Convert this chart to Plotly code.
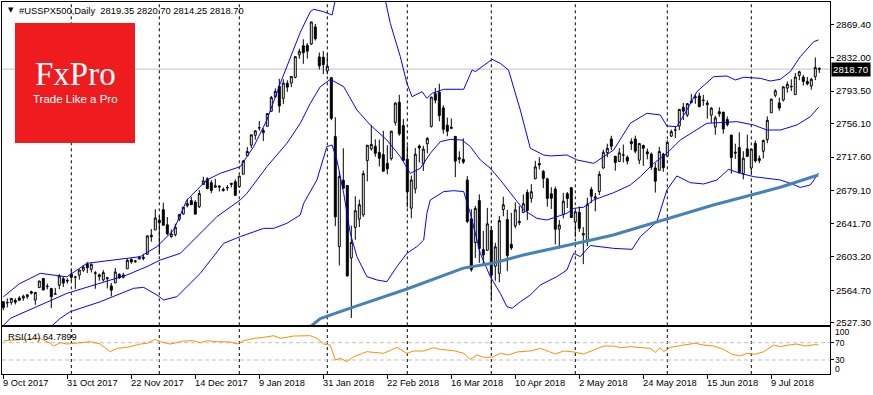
import plotly.graph_objects as go
from plotly.subplots import make_subplots

# ---------------- data ----------------
opens = [2551.4, 2550.0, 2550.6, 2552.9, 2555.7, 2555.6, 2557.2, 2562.9, 2553.4, 2567.6,
         2578.1, 2568.7, 2566.5, 2560.1, 2570.3, 2577.8, 2576.0,
         2583.2, 2579.5, 2581.9, 2587.5, 2594.4, 2588.7, 2584.0, 2580.2, 2576.5, 2577.8,
         2569.5, 2573.0, 2582.9, 2579.5, 2589.2, 2600.3, 2597.5, 2600.4, 2602.7, 2605.9,
         2627.8, 2633.9,
         2645.1, 2657.2, 2639.8, 2626.2, 2628.4, 2646.2, 2652.2, 2661.7, 2667.6, 2665.9,
         2660.6, 2685.9, 2692.7, 2688.2, 2683.0, 2684.2, 2679.1, 2682.1, 2686.1, 2689.2,
         2683.7, 2697.9, 2719.3, 2731.3, 2742.7, 2751.2, 2745.6, 2753.0, 2770.2, 2787.0,
         2799.0, 2785.0, 2802.4, 2802.6, 2809.2, 2835.1, 2845.4, 2846.2, 2847.5, 2867.2,
         2832.7, 2832.4,
         2816.5, 2808.9, 2741.1, 2614.8, 2691.0, 2685.0, 2601.8, 2636.8, 2646.3, 2651.2,
         2713.5, 2727.1, 2730.0, 2723.0, 2720.5, 2710.4, 2715.8, 2757.4, 2780.5, 2753.8,
         2715.2, 2658.9, 2681.1, 2730.2, 2710.2, 2732.8, 2752.9, 2790.5, 2792.3, 2774.1,
         2754.3, 2750.6, 2741.4, 2715.1, 2715.0, 2691.4, 2646.7, 2619.4, 2667.6, 2611.3,
         2610.6,
         2633.5, 2592.2, 2584.0, 2657.4, 2645.8, 2617.2, 2638.4, 2643.7, 2653.8, 2676.9,
         2670.1, 2692.7, 2710.1, 2701.2, 2692.6, 2675.4, 2680.8, 2634.9, 2651.7, 2675.5,
         2682.5,
         2643.0, 2654.2, 2628.1, 2621.5, 2680.3, 2670.3, 2678.1, 2705.0, 2722.7, 2738.5,
         2718.6, 2712.6, 2719.7, 2717.4, 2735.4, 2738.3, 2714.0, 2730.9, 2723.6, 2721.0,
         2705.1, 2702.4, 2721.0,
         2718.7, 2741.7, 2748.5, 2753.3, 2774.8, 2765.8, 2780.2, 2785.6, 2787.9, 2783.2,
         2777.8, 2765.8, 2752.0, 2769.7, 2769.3, 2760.8, 2742.9, 2722.1, 2728.5, 2698.7,
         2727.1,
         2705.0, 2733.3, 2713.5, 2724.2, 2737.7, 2768.5, 2788.6, 2779.8, 2783.1, 2796.9,
         2799.0, 2789.3, 2811.4, 2809.4, 2804.6, 2799.2, 2810.0, 2819.35]
highs = [2551.8, 2555.2, 2555.2, 2555.3, 2557.7, 2559.5, 2559.7, 2564.1, 2562.4, 2575.4,
         2578.3, 2572.2, 2567.4, 2567.1, 2583.0, 2580.0, 2578.3,
         2588.4, 2581.1, 2588.4, 2593.4, 2597.0, 2595.5, 2586.5, 2583.8, 2587.7, 2579.7,
         2572.8, 2590.1, 2584.0, 2584.6, 2601.2, 2600.9, 2599.5, 2604.2, 2606.4, 2627.7,
         2634.9, 2657.7,
         2650.6, 2665.2, 2648.7, 2634.4, 2641.0, 2651.7, 2660.3, 2669.7, 2671.9, 2668.1,
         2679.6, 2695.0, 2694.4, 2691.0, 2692.6, 2685.4, 2682.7, 2685.6, 2687.7, 2692.1,
         2695.9, 2714.4, 2729.3, 2743.5, 2748.5, 2759.1, 2750.8, 2767.6, 2787.9, 2796.5,
         2807.5, 2807.0, 2805.8, 2810.3, 2833.0, 2842.2, 2853.0, 2848.6, 2872.9, 2870.6,
         2837.8, 2839.3,
         2836.0, 2808.9, 2763.4, 2701.0, 2727.7, 2685.3, 2638.7, 2672.6, 2668.8, 2702.1,
         2731.5, 2754.4, 2738.0, 2737.6, 2747.8, 2731.3, 2747.8, 2780.6, 2789.2, 2761.5,
         2730.9, 2696.3, 2728.1, 2732.1, 2730.6, 2740.5, 2786.6, 2797.0, 2801.9, 2777.1,
         2763.0, 2761.9, 2741.4, 2724.2, 2739.1, 2695.7, 2657.7, 2661.4, 2674.8, 2632.7,
         2659.1,
         2638.3, 2619.1, 2649.9, 2672.1, 2656.9, 2653.6, 2665.5, 2661.4, 2674.7, 2680.3,
         2686.5, 2713.3, 2717.5, 2702.8, 2693.9, 2682.9, 2683.6, 2645.3, 2676.5, 2677.4,
         2682.9,
         2655.3, 2660.9, 2637.1, 2670.9, 2683.4, 2676.3, 2701.3, 2726.1, 2732.9, 2742.1,
         2718.6, 2727.8, 2732.0, 2719.5, 2739.2, 2742.2, 2733.3, 2732.0, 2727.4, 2723.0,
         2710.7, 2729.3, 2722.5,
         2736.9, 2749.2, 2752.6, 2772.4, 2779.9, 2779.4, 2790.2, 2789.8, 2791.5, 2789.1,
         2782.8, 2775.0, 2765.1, 2774.9, 2769.3, 2764.2, 2742.9, 2732.9, 2746.1, 2724.3,
         2743.3,
         2727.3, 2736.6, 2719.5, 2737.8, 2764.4, 2784.7, 2795.6, 2785.9, 2799.2, 2804.5,
         2807.0, 2814.2, 2816.8, 2812.1, 2809.7, 2808.6, 2832.0, 2820.70]
lows = [2541.6, 2544.9, 2547.9, 2548.3, 2552.1, 2552.6, 2554.7, 2559.7, 2547.9, 2567.6,
        2564.3, 2565.6, 2544.0, 2559.8, 2565.9, 2568.3, 2572.2,
        2574.9, 2566.2, 2576.8, 2585.7, 2584.4, 2585.0, 2566.3, 2575.6, 2574.5, 2566.6,
        2557.5, 2573.0, 2577.6, 2578.2, 2589.2, 2595.2, 2596.0, 2600.4, 2598.9, 2605.4,
        2620.3, 2633.9,
        2605.5, 2639.0, 2627.7, 2624.8, 2626.5, 2644.1, 2651.5, 2659.8, 2662.9, 2652.0,
        2659.1, 2685.9, 2680.7, 2676.1, 2682.4, 2678.1, 2678.0, 2678.9, 2682.7, 2673.6,
        2682.4, 2697.8, 2719.1, 2727.9, 2737.6, 2747.9, 2736.1, 2752.8, 2769.6, 2785.5,
        2768.6, 2778.4, 2792.6, 2798.1, 2808.1, 2830.6, 2824.8, 2830.9, 2846.2, 2851.5,
        2818.3, 2813.0,
        2812.7, 2760.0, 2638.2, 2593.1, 2681.3, 2580.6, 2532.7, 2622.5, 2637.1, 2648.9,
        2689.8, 2725.1, 2718.0, 2706.8, 2701.3, 2697.8, 2713.7, 2753.8, 2742.1, 2713.5,
        2659.7, 2647.3, 2675.8, 2711.3, 2701.7, 2721.9, 2751.5, 2779.3, 2758.7, 2744.4,
        2741.5, 2750.0, 2694.6, 2710.1, 2709.8, 2641.6, 2585.9, 2601.8, 2596.1, 2593.1,
        2609.7,
        2553.8, 2575.5, 2573.6, 2649.6, 2586.3, 2610.8, 2635.8, 2639.3, 2653.8, 2645.1,
        2665.2, 2692.1, 2703.6, 2681.9, 2660.6, 2658.0, 2617.3, 2612.7, 2647.2, 2659.0,
        2648.0,
        2625.4, 2631.7, 2594.6, 2615.3, 2664.7, 2655.2, 2674.1, 2704.5, 2717.5, 2725.5,
        2701.9, 2712.2, 2711.4, 2709.2, 2725.7, 2721.9, 2709.5, 2707.4, 2715.0, 2703.0,
        2676.8, 2702.4, 2700.7,
        2718.7, 2740.5, 2739.5, 2748.5, 2760.2, 2763.6, 2779.4, 2778.8, 2774.7, 2776.5,
        2761.7, 2757.1, 2743.2, 2763.9, 2744.4, 2752.7, 2698.7, 2715.6, 2699.4, 2692.0,
        2718.0,
        2699.0, 2711.2, 2710.5, 2716.0, 2733.5, 2768.5, 2786.2, 2770.8, 2781.5, 2791.7,
        2793.6, 2789.2, 2805.9, 2799.8, 2800.0, 2795.1, 2806.0, 2814.25]
closes = [2544.7, 2550.6, 2555.2, 2550.9, 2553.2, 2557.6, 2559.4, 2561.3, 2562.1, 2575.2,
          2565.0, 2569.1, 2557.2, 2560.4, 2581.1, 2572.8, 2575.3,
          2579.4, 2579.9, 2587.8, 2591.1, 2590.6, 2594.4, 2584.6, 2582.3, 2584.8, 2578.9,
          2564.6, 2585.6, 2578.9, 2582.1, 2599.0, 2597.1, 2598.2, 2602.4, 2601.4, 2627.0,
          2626.1, 2647.6,
          2642.2, 2639.4, 2629.6, 2629.3, 2637.0, 2651.5, 2660.0, 2664.1, 2662.9, 2652.0,
          2675.8, 2690.2, 2681.5, 2679.3, 2684.6, 2683.3, 2680.5, 2682.6, 2687.5, 2673.6,
          2695.8, 2713.1, 2724.0, 2743.2, 2747.7, 2751.3, 2748.2, 2767.6, 2786.2, 2793.0,
          2776.4, 2802.6, 2798.0, 2810.3, 2833.0, 2839.1, 2837.5, 2839.3, 2872.9, 2853.5,
          2822.4, 2823.8,
          2822.0, 2762.1, 2648.9, 2695.1, 2681.7, 2581.0, 2619.6, 2656.0, 2662.9, 2698.6,
          2731.2, 2732.2, 2722.0, 2716.3, 2701.3, 2704.0, 2747.3, 2779.6, 2744.3, 2713.8,
          2677.7, 2691.3, 2720.9, 2728.1, 2726.8, 2739.0, 2786.6, 2783.0, 2765.3, 2749.5,
          2747.3, 2752.0, 2712.9, 2716.9, 2711.9, 2643.7, 2588.3, 2658.6, 2612.6, 2605.0,
          2640.9,
          2581.9, 2614.5, 2644.7, 2662.8, 2604.5, 2613.2, 2656.9, 2642.2, 2664.0, 2656.3,
          2677.8, 2706.4, 2708.6, 2693.1, 2670.1, 2670.3, 2634.6, 2639.4, 2666.9, 2669.9,
          2648.1,
          2654.8, 2635.7, 2629.7, 2663.4, 2672.6, 2671.9, 2697.8, 2723.1, 2727.7, 2730.1,
          2711.5, 2722.5, 2720.1, 2713.0, 2733.0, 2724.4, 2733.3, 2727.8, 2721.3, 2706.0,
          2689.9, 2724.0, 2705.3,
          2734.6, 2746.9, 2748.8, 2772.4, 2770.4, 2779.0, 2782.0, 2786.9, 2775.6, 2782.5,
          2779.7, 2773.9, 2762.6, 2767.3, 2749.8, 2754.9, 2717.1, 2723.1, 2699.6, 2716.3,
          2718.4,
          2726.7, 2713.2, 2716.0, 2736.6, 2759.8, 2784.2, 2793.8, 2774.0, 2798.3, 2801.3,
          2798.4, 2809.6, 2815.6, 2804.5, 2801.8, 2807.0, 2820.4, 2818.70]
bars = list(range(len(closes)))

# Bollinger bands (20,2) read at points along each line: (bar position, value)
bb_upper_x = [0, 4, 9.25, 15.9, 20.9, 24.25, 30.9, 34.25, 38.4, 42.6, 45.9, 50.9, 54.25,
              59.25, 62.6, 65.9, 69.25, 72.6, 74.25, 76.75, 77.6, 80.1, 82.2, 83, 86, 89,
              92, 95.5, 96.75, 99.25, 100.9, 102.2, 104.7, 105.9, 107.2, 110.1, 115.1,
              117.2, 118, 119.7, 122.2, 124.25, 126.3, 129.25, 131.75, 135.1, 136.75,
              140.9, 143.4, 147.6, 152.6, 156.75, 160.9, 164.25, 165.9, 168.4, 170.9,
              173.4, 177.6, 180.9, 183, 185.1, 189.25, 191.75, 194.25, 196.75, 199.25,
              202.6, 203.8]
bb_upper = [2557, 2572, 2584, 2580, 2595.5, 2597.4, 2601.3, 2603.2, 2614.7, 2633.8, 2668.3,
            2691.3, 2698.9, 2706.6, 2729.6, 2760.2, 2802.4, 2840.7, 2861, 2884.7, 2887.4,
            2884.7, 2880.9, 2898, 2925, 2940, 2930, 2898, 2871.3, 2833, 2802.4, 2787,
            2792.8, 2785.1, 2790.9, 2795.5, 2795.5, 2817.7, 2815.8, 2821.5, 2829.9, 2825.3,
            2817.7, 2771.7, 2727.7, 2720, 2718.9, 2720, 2714.3, 2710.4, 2725.8, 2756.4,
            2767.9, 2766, 2753.3, 2752.6, 2771.7, 2792.8, 2810, 2810.8, 2806.2, 2809.3,
            2808.1, 2805, 2807, 2815.8, 2833, 2850.2, 2852.2]
bb_mid_x = [0, 1.75, 15.9, 26.75, 30.9, 35.9, 39.25, 44.25, 47.6, 53.4, 59.25, 60.9, 65.9,
            70.9, 74.25, 76.75, 79.25, 81.75, 85.1, 88.4, 91.75, 95.9, 99.25, 101.75,
            104.25, 106.75, 109.25, 111.75, 114.7, 116.75, 119.25, 121.75, 124.25, 126.75,
            130.1, 133.4, 135.9, 138.4, 140.9, 142.6, 145.1, 147.6, 152.6, 156.75, 159.25,
            162.6, 165.9, 169.25, 172.6, 175.9, 179.25, 183.4, 187.6, 190.9, 194.25, 198.4,
            201.75, 203.8]
bb_mid = [2524, 2532.3, 2561, 2576.4, 2582.1, 2591.7, 2599.3, 2607, 2622.3, 2649.1, 2668.3,
          2675.9, 2706.6, 2733.4, 2756.4, 2779.4, 2798.5, 2806.9, 2798.5, 2771.7, 2754.5,
          2737.2, 2718.1, 2698.9, 2704.7, 2721.9, 2735.3, 2738, 2737.2, 2729.6, 2714.3,
          2704.7, 2691.3, 2676, 2656.8, 2647.2, 2645.3, 2649.1, 2653, 2658.7, 2660,
          2668.3, 2676.7, 2685.5, 2695.1, 2710.4, 2721.9, 2737.2, 2746.8, 2756.4, 2757.2,
          2758.3, 2754.5, 2748.7, 2748.7, 2754.5, 2764, 2774.8]
bb_lower_x = [10, 14.25, 16.75, 24.25, 32.6, 35.1, 38.4, 40.1, 43.4, 49.25, 55.1, 59.25,
              65.1, 67.6, 70.9, 74.25, 75.1, 78.4, 80.9, 82.2, 83.4, 85.1, 86.75, 88.4,
              90.9, 93.4, 95.9, 98.4, 100.9, 103.4, 105.1, 105.9, 106.75, 110.1, 112.6,
              115.1, 116.75, 119.25, 121.75, 124.25, 125.9, 127.2, 129.25, 131.75, 134.25,
              138.4, 140.9, 142.6, 144.25, 146.75, 152.6, 157.2, 159.25, 163.4, 165.9,
              168.4, 171.75, 175.1, 178.4, 181.3, 184.25, 187.6, 190.9, 194.25, 196.75,
              199.25, 201.75, 203.8]
bb_lower = [2515, 2532.3, 2540, 2551.4, 2566.8, 2567.9, 2559.1, 2553.4, 2557.2, 2584,
            2618.5, 2626.2, 2635.7, 2635.7, 2641.5, 2651.1, 2664.5, 2691.3, 2729.6, 2731.5,
            2714.3, 2676, 2630, 2603.2, 2580.2, 2576.4, 2574.4, 2591.7, 2607, 2614.7,
            2622.3, 2653, 2668.3, 2677.9, 2679, 2677.9, 2653, 2607, 2580.2, 2561, 2545.7,
            2543.8, 2551.4, 2559.1, 2570.6, 2580.2, 2587.8, 2607, 2603.2, 2616, 2612.7,
            2611.6, 2626.1, 2643.4, 2679.8, 2695.9, 2688.2, 2686.7, 2691.3, 2703.5, 2698.9,
            2695.1, 2693.2, 2691.3, 2687.4, 2682.8, 2685.5, 2698.9]

# 200-period moving average
ma_x = [76, 79.25, 86.75, 100.9, 115, 122.2, 130, 143.4, 146.75, 152.5, 163.4, 166,
        177.5, 187, 194.25, 203.75]
ma_vals = [2520, 2532, 2544, 2566, 2590, 2595.5, 2605, 2618, 2622, 2628, 2643, 2647,
           2662.5, 2674, 2683, 2697]

# RSI(14)
rsi_x = [0.1, 9.25, 11.75, 12.6, 14.25, 15.9, 19.25, 21.75, 24.25, 26.75, 28.4, 30.9,
         34.25, 35.9, 38, 39.25, 41.75, 45.1, 47.6, 49.25, 50.9, 53.4, 56.75, 58.4, 60.1,
         62.6, 65.1, 67.6, 69.25, 72.6, 76.75, 78.4, 80.1, 81.75, 83, 84.25, 85.9, 87.6,
         90.9, 95.1, 98.4, 100.9, 102.6, 105.1, 107.6, 109.25, 112.6, 115.1, 116.75,
         118.4, 120.1, 122.2, 124.25, 126.3, 128.4, 131.75, 134.25, 138, 140.1, 142.6,
         145.1, 147.6, 150.1, 152.6, 154.25, 156.75, 160.1, 161.75, 163, 164.25, 165.1,
         166.75, 170.1, 173, 175.1, 177.6, 180.1, 182.2, 184.25, 185.9, 188, 190.1,
         192.6, 194.25, 195.9, 198.4, 200.5, 202.6, 203.8]
rsi_vals = [74.6, 80, 68.5, 62.3, 70, 66.9, 70, 72.3, 66.9, 49.2, 56.9, 59.2, 66.9, 68.5,
            77.7, 72.3, 66.9, 73.9, 74.6, 70, 74.6, 72.3, 71.5, 66.9, 74.6, 80, 82.3, 86.2,
            80, 85.4, 86.2, 80, 66.9, 64.6, 30, 33.9, 26.2, 37.7, 49.2, 45.4, 59.2, 45.4,
            50.8, 50.8, 58.5, 54.6, 51.5, 45.4, 31.6, 41.5, 36.2, 36.2, 45.4, 41.5, 48.5,
            50.8, 56.9, 43.9, 50.8, 48.5, 43.9, 53.1, 62.3, 62.3, 58.5, 60.8, 58.5, 56.9,
            47.7, 58.5, 49.2, 59.2, 64.6, 68.5, 64.6, 62.3, 54.6, 43.1, 39.2, 45.4, 43.1,
            49.2, 64.6, 60.8, 63.9, 66.9, 62.3, 65.4, 64.7899]

price_ticks = [2527.30, 2564.70, 2603.20, 2641.70, 2679.10, 2717.60, 2756.10, 2793.50,
               2832.00, 2869.40]
rsi_ticks = [100, 70, 30, 0]
date_tick_bars = [0, 16, 32, 48, 64, 80, 96, 112, 128, 144, 160, 176, 192]
date_tick_labels = ["9 Oct 2017", "31 Oct 2017", "22 Nov 2017", "14 Dec 2017", "9 Jan 2018",
                    "31 Jan 2018", "22 Feb 2018", "16 Mar 2018", "10 Apr 2018", "2 May 2018",
                    "24 May 2018", "15 Jun 2018", "9 Jul 2018"]
month_start_bars = [17, 39, 59, 81, 101, 122, 143, 166, 187]
last_price = 2818.70
header = "#USSPX500,Daily  2819.35 2820.70 2814.25 2818.70"
rsi_label = "RSI(14) 64.7899"

# guard: wicks always enclose the bodies
highs = [max(h, o, c) for h, o, c in zip(highs, opens, closes)]
lows = [min(l, o, c) for l, o, c in zip(lows, opens, closes)]

# ---------------- layout geometry ----------------
W, H = 873, 395
ML, MR, MT, MB = 2, 43, 2, 21
PW, PH = W - ML - MR, H - MT - MB


def fx(xp):
    return (xp - ML) / PW


def fy(yp):
    return (H - MB - yp) / PH


FONT = "Liberation Sans, Arial, sans-serif"

fig = make_subplots(rows=2, cols=1, shared_xaxes=True)

fig.add_trace(go.Candlestick(
    x=bars, open=opens, high=highs, low=lows, close=closes,
    increasing=dict(line=dict(color="black", width=1), fillcolor="white"),
    decreasing=dict(line=dict(color="black", width=1), fillcolor="black"),
    whiskerwidth=0, hoverinfo="skip", showlegend=False), row=1, col=1)

for xs, ys in [(bb_upper_x, bb_upper), (bb_mid_x, bb_mid), (bb_lower_x, bb_lower)]:
    fig.add_trace(go.Scatter(x=xs, y=ys, mode="lines",
                             line=dict(color="#0000FF", width=1),
                             hoverinfo="skip", showlegend=False), row=1, col=1)

fig.add_trace(go.Scatter(x=ma_x, y=ma_vals, mode="lines",
                         line=dict(color="#4682B4", width=3),
                         hoverinfo="skip", showlegend=False), row=1, col=1)

fig.add_trace(go.Scatter(x=rsi_x, y=rsi_vals, mode="lines",
                         line=dict(color="#FF8C00", width=1),
                         hoverinfo="skip", showlegend=False), row=2, col=1)

shapes = []
for b in month_start_bars:
    for yr in ("y domain", "y2 domain"):
        shapes.append(dict(type="line", xref="x", yref=yr, x0=b, x1=b, y0=0, y1=1,
                           line=dict(color="black", width=1, dash="3px,3px"),
                           layer="below"))
shapes.append(dict(type="line", xref="x domain", yref="y", x0=0, x1=1,
                   y0=last_price, y1=last_price,
                   line=dict(color="#C0C0C0", width=1), layer="below"))
for lv in (70, 30):
    shapes.append(dict(type="line", xref="x domain", yref="y2", x0=0, x1=1, y0=lv, y1=lv,
                       line=dict(color="#C0C0C0", width=1, dash="4px,3px"), layer="below"))
shapes.append(dict(type="rect", xref="paper", yref="paper",
                   x0=fx(15), x1=fx(135), y0=fy(143), y1=fy(23),
                   fillcolor="#EE1C1F", line=dict(width=0), layer="above"))

annotations = []
annotations.append(dict(xref="paper", yref="paper", x=fx(75.5), y=fy(74), text="FxPro",
                        showarrow=False, xanchor="center", yanchor="middle",
                        font=dict(family="Liberation Serif, Times New Roman, serif",
                                  size=33, color="white")))
annotations.append(dict(xref="paper", yref="paper", x=fx(75), y=fy(98.5),
                        text="Trade Like a Pro", showarrow=False,
                        xanchor="center", yanchor="middle",
                        font=dict(family=FONT, size=11.5, color="white")))
annotations.append(dict(xref="paper", yref="paper", x=fx(6), y=fy(10.5), text="▼",
                        showarrow=False, xanchor="left", yanchor="middle",
                        font=dict(family="DejaVu Sans", size=7, color="black")))
annotations.append(dict(xref="paper", yref="paper", x=fx(17), y=fy(10.5), text=header,
                        showarrow=False, xanchor="left", yanchor="middle",
                        font=dict(family=FONT, size=9.4, color="black")))
annotations.append(dict(xref="paper", yref="paper", x=fx(6), y=fy(336), text=rsi_label,
                        showarrow=False, xanchor="left", yanchor="middle",
                        font=dict(family=FONT, size=9.4, color="black")))
annotations.append(dict(xref="paper", yref="y", x=1, y=last_price, xshift=1,
                        text="%.2f" % last_price, showarrow=False,
                        xanchor="left", yanchor="middle", bgcolor="black", borderpad=1,
                        font=dict(family=FONT, size=9.7, color="white")))
# RSI scale labels, nudged apart as in the reference window
rsi_shift = {100: -2.5, 70: 0, 30: 0, 0: 3.5}
for v in rsi_ticks:
    annotations.append(dict(xref="paper", yref="y2", x=1, y=v, xshift=3,
                            yshift=rsi_shift[v], text=str(v), showarrow=False,
                            xanchor="left", yanchor="middle",
                            font=dict(family=FONT, size=8.6, color="black")))
for b, t in zip(date_tick_bars, date_tick_labels):
    annotations.append(dict(xref="x2", yref="paper", x=b, y=fy(383), text=t,
                            showarrow=False, xanchor="left", yanchor="middle", xshift=-2,
                            font=dict(family=FONT, size=9.3, color="black")))

xr = [(ML - 3.3) / 4, (ML + PW - 3.3) / 4]
axis_common = dict(showline=True, linecolor="black", linewidth=1, mirror=True,
                   showgrid=False, zeroline=False, automargin=False)

fig.update_layout(
    width=W, height=H, margin=dict(l=ML, r=MR, t=MT, b=MB, autoexpand=False),
    paper_bgcolor="white", plot_bgcolor="white",
    shapes=shapes, annotations=annotations, showlegend=False,
    xaxis=dict(range=xr, showticklabels=False, ticks="", rangeslider=dict(visible=False),
               **axis_common),
    xaxis2=dict(range=xr, tickmode="array", tickvals=date_tick_bars, ticks="outside",
                ticklen=4, tickcolor="black", showticklabels=False, **axis_common),
    yaxis=dict(domain=[fy(325.3), 1], range=[2524.3, 2895.8], side="right",
               tickmode="array", tickvals=price_ticks,
               ticktext=["%.2f" % v for v in price_ticks], ticks="outside", ticklen=3,
               tickcolor="black", tickfont=dict(family=FONT, size=9.7, color="black"),
               **axis_common),
    yaxis2=dict(domain=[0, fy(327.3)], range=[-2.4, 105.6], side="right",
                tickmode="array", tickvals=[70, 30], ticks="outside", ticklen=3,
                tickcolor="black", showticklabels=False, **axis_common),
)

fig.write_html("out.html",
               config={"displayModeBar": False, "staticPlot": True},
               post_script="document.body.style.margin='0';"
                           "document.body.style.overflow='hidden';")
